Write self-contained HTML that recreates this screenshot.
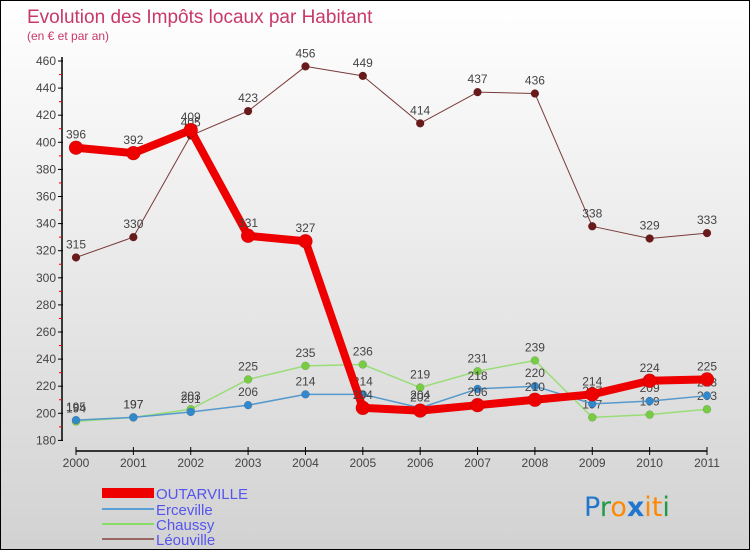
<!DOCTYPE html>
<html><head><meta charset="utf-8"><style>
html,body{margin:0;padding:0}
body{width:750px;height:550px;overflow:hidden;font-family:"Liberation Sans","DejaVu Sans",sans-serif}
#c{position:absolute;left:0;top:0;width:748px;height:548px;border:1px solid #000;background:linear-gradient(#ffffff,#d2d2d2)}
</style></head><body>
<div id="c">
<svg id="s" width="748" height="548" xmlns="http://www.w3.org/2000/svg">
<text x="26" y="22" font-size="19" fill="#c8386a">Evolution des Impôts locaux par Habitant</text>
<text x="26" y="39" font-size="12" fill="#c8386a">(en € et par an)</text>
<g id="axes"></g><g id="series"></g>
<g>
<rect x="101" y="487" width="52" height="10" fill="#ee0000"/>
<text x="155" y="498" font-size="15" fill="#5555ee">OUTARVILLE</text>
<line x1="101" y1="508" x2="153" y2="508" stroke="#5aa0d8" stroke-width="2"/>
<text x="155" y="514" font-size="15" fill="#5555ee">Erceville</text>
<line x1="101" y1="523" x2="153" y2="523" stroke="#88dd66" stroke-width="2"/>
<text x="155" y="529" font-size="15" fill="#5555ee">Chaussy</text>
<line x1="101" y1="538" x2="153" y2="538" stroke="#996666" stroke-width="2"/>
<text x="155" y="544" font-size="15" fill="#5555ee">Léouville</text>
</g>
<text x="583" y="515" font-size="27" font-family="'DejaVu Sans',sans-serif"><tspan fill="#2277cc">P</tspan><tspan fill="#229944">r</tspan><tspan fill="#ff8800">o</tspan><tspan fill="#2277cc" font-weight="bold">x</tspan><tspan fill="#ff8800">i</tspan><tspan fill="#ff8800">t</tspan><tspan fill="#229944">i</tspan></text>
</svg></div>
<script>
const years=["2000","2001","2002","2003","2004","2005","2006","2007","2008","2009","2010","2011"];
const yTicks=[180,200,220,240,260,280,300,320,340,360,380,400,420,440,460];
const outarville=[396,392,409,331,327,204,202,206,210,214,224,225];
const erceville=[195,197,201,206,214,214,204,218,220,207,209,213];
const chaussy=[194,197,203,225,235,236,219,231,239,197,199,203];
const leouville=[315,330,405,423,456,449,414,437,436,338,329,333];
const NS="http://www.w3.org/2000/svg";
const xs=i=>75+i*(631/11);
const ys=v=>412.3-(v-200)*1.355;
function mk(t,a,p){const e=document.createElementNS(NS,t);for(const k in a)e.setAttribute(k,a[k]);p.appendChild(e);return e;}
const ax=document.getElementById('axes');
let e=mk('line',{x1:61,y1:56,x2:61,y2:440,stroke:'#000','stroke-width':1.5},ax);


yTicks.forEach(v=>{
 const y=ys(v);
 let t=mk('line',{x1:57,y1:y,x2:62,y2:y,stroke:'#000'},ax);
 
 
 if(v<460){let m=mk('line',{x1:58,y1:ys(v+10),x2:61,y2:ys(v+10),stroke:'#e00'},ax);
 
 }
 let l=mk('text',{x:55,y:y+4,'font-size':12,fill:'#444','text-anchor':'end'},ax);l.textContent=v;
 
 
});
e=mk('line',{x1:75,y1:450,x2:706,y2:450,stroke:'#000','stroke-width':1.5},ax);


years.forEach((yr,i)=>{
 let t=mk('line',{x1:xs(i),y1:446,x2:xs(i),y2:454,stroke:'#000'},ax);
 
 
 let l=mk('text',{x:xs(i),y:466,'font-size':12,fill:'#444','text-anchor':'middle'},ax);l.textContent=yr;
 
 
});
const sg=document.getElementById('series');
function draw(vals,name,color,w,r,dot){
 const g=mk('g',{},sg);
 
 
 const p=mk('polyline',{points:vals.map((v,i)=>xs(i)+','+ys(v)).join(' '),fill:'none',stroke:color,'stroke-width':w,'stroke-linejoin':'round'},g);
 
 
 vals.forEach((v,i)=>{
  const c=mk('circle',{cx:xs(i),cy:ys(v),r:r,fill:dot,stroke:'rgba(0,0,0,0.2)','stroke-width':0.5},g);
  
  
  const t=mk('text',{x:xs(i),y:ys(v)-9,'font-size':12,fill:'#444','text-anchor':'middle'},g);t.textContent=v;
  
  
 });
}
draw(leouville,'leouville','#7a3a3a',1,4,'#6a1a1a');
draw(chaussy,'chaussy','#99dd77',1.5,4,'#77cc44');
draw(erceville,'erceville','#5599cc',1.5,4,'#3388cc');
draw(outarville,'outarville','#ee0000',8,7,'#ee0000');
</script>
</body></html>
